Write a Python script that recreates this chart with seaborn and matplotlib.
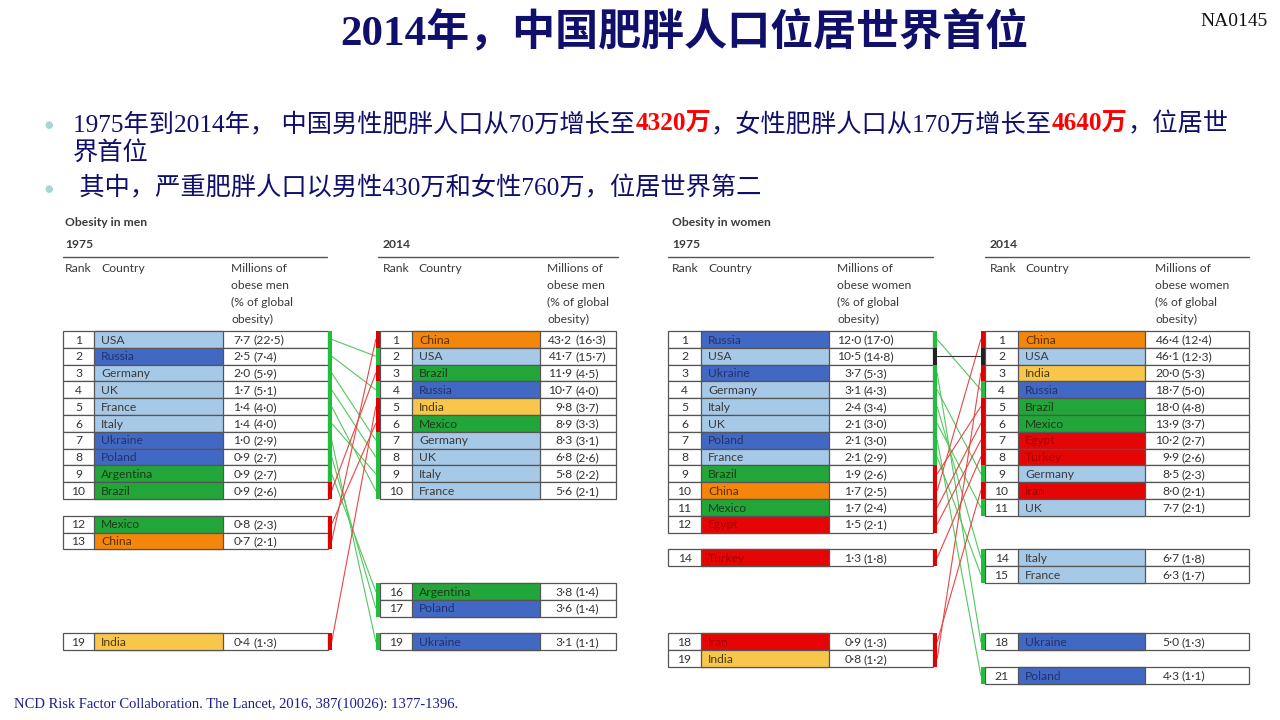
import matplotlib
matplotlib.use("Agg")
import matplotlib.pyplot as plt
import seaborn as sns
import pandas as pd
from matplotlib.patches import Rectangle

# ---------------- data ----------------
men_1975_countries = ["USA", "Russia", "Germany", "UK", "France", "Italy", "Ukraine",
                      "Poland", "Argentina", "Brazil", "Mexico", "China", "India"]
men_1975_ranks = [1, 2, 3, 4, 5, 6, 7, 8, 9, 10, 12, 13, 19]
men_1975_millions = [7.7, 2.5, 2.0, 1.7, 1.4, 1.4, 1.0, 0.9, 0.9, 0.9, 0.8, 0.7, 0.4]
men_1975_share = [22.5, 7.4, 5.9, 5.1, 4.0, 4.0, 2.9, 2.7, 2.7, 2.6, 2.3, 2.1, 1.3]

men_2014_countries = ["China", "USA", "Brazil", "Russia", "India", "Mexico", "Germany",
                      "UK", "Italy", "France", "Argentina", "Poland", "Ukraine"]
men_2014_ranks = [1, 2, 3, 4, 5, 6, 7, 8, 9, 10, 16, 17, 19]
men_2014_millions = [43.2, 41.7, 11.9, 10.7, 9.8, 8.9, 8.3, 6.8, 5.8, 5.6, 3.8, 3.6, 3.1]
men_2014_share = [16.3, 15.7, 4.5, 4.0, 3.7, 3.3, 3.1, 2.6, 2.2, 2.1, 1.4, 1.4, 1.1]

women_1975_countries = ["Russia", "USA", "Ukraine", "Germany", "Italy", "UK", "Poland",
                        "France", "Brazil", "China", "Mexico", "Egypt", "Turkey", "Iran", "India"]
women_1975_ranks = [1, 2, 3, 4, 5, 6, 7, 8, 9, 10, 11, 12, 14, 18, 19]
women_1975_millions = [12.0, 10.5, 3.7, 3.1, 2.4, 2.1, 2.1, 2.1, 1.9, 1.7, 1.7, 1.5, 1.3, 0.9, 0.8]
women_1975_share = [17.0, 14.8, 5.3, 4.3, 3.4, 3.0, 3.0, 2.9, 2.6, 2.5, 2.4, 2.1, 1.8, 1.3, 1.2]

women_2014_countries = ["China", "USA", "India", "Russia", "Brazil", "Mexico", "Egypt",
                        "Turkey", "Germany", "Iran", "UK", "Italy", "France", "Ukraine", "Poland"]
women_2014_ranks = [1, 2, 3, 4, 5, 6, 7, 8, 9, 10, 11, 14, 15, 18, 21]
women_2014_millions = [46.4, 46.1, 20.0, 18.7, 18.0, 13.9, 10.2, 9.9, 8.5, 8.0, 7.7, 6.7, 6.3, 5.0, 4.3]
women_2014_share = [12.4, 12.3, 5.3, 5.0, 4.8, 3.7, 2.7, 2.6, 2.3, 2.1, 2.1, 1.8, 1.7, 1.3, 1.1]

country_region = {
    "USA": "west", "Germany": "west", "UK": "west", "France": "west", "Italy": "west",
    "Russia": "east", "Ukraine": "east", "Poland": "east",
    "Argentina": "latam", "Brazil": "latam", "Mexico": "latam",
    "China": "china", "India": "india",
    "Egypt": "mena", "Turkey": "mena", "Iran": "mena",
}

# ---------------- styles ----------------
region_fill = {"west": "#a7c9e8", "east": "#4168c2", "latam": "#22a63a",
               "china": "#f5860c", "india": "#f8c64b", "mena": "#e50505"}
region_text = {"west": "#3a3a3a", "east": "#22336e", "latam": "#1d3a1d",
               "china": "#5a3000", "india": "#4a3a10", "mena": "#a80000"}
move_colors = {"down": "#1fbf3c", "up": "#e00000", "same": "#222222"}
line_colors = {"down": "#52c75f", "up": "#e84545", "same": "#333333"}

sns.set_theme(style="white")
plt.rcParams["font.family"] = ["Lato", "DejaVu Sans"]

fig = plt.figure(figsize=(12.8, 7.2), dpi=100)
ax = fig.add_axes([0, 0, 1, 1])

NAVY = "#10106c"
CJK = ["Liberation Serif", "Noto Sans CJK SC", "DejaVu Sans"]

# ---------------- title and bullets ----------------
ax.text(684, 33, "2014年，中国肥胖人口位居世界首位", family=CJK, fontweight="bold",
        fontsize=31, color=NAVY, ha="center", va="center")
ax.text(1268, 22, "NA0145", family=["Liberation Serif"], fontsize=14,
        color="#111111", ha="right", va="center")

BULLET_FS = 18.2
for by in (125, 189):
    ax.text(49, by, "●", fontsize=7, color="#a9d5d6", ha="center", va="center",
            family=["DejaVu Sans"])

segments = [("1975年到2014年， 中国男性肥胖人口从70万增长至", False),
            ("4320万", True),
            ("，女性肥胖人口从170万增长至", False),
            ("4640万", True),
            ("，位居世", False)]
prev = None
for seg, hl in segments:
    kw = dict(family=CJK, fontsize=BULLET_FS,
              color="#ff0000" if hl else NAVY,
              fontweight="bold" if hl else "normal")
    if prev is None:
        prev = ax.text(73, 124, seg, ha="left", va="center", **kw)
    else:
        prev = ax.annotate(seg, xy=(1, 0), xycoords=prev, ha="left", va="bottom", **kw)
ax.text(73, 153, "界首位", family=CJK, fontsize=BULLET_FS, color=NAVY, ha="left", va="center")
ax.text(73, 188, " 其中，严重肥胖人口以男性430万和女性760万，位居世界第二", family=CJK,
        fontsize=BULLET_FS, color=NAVY, ha="left", va="center")

ax.text(14, 704, "NCD Risk Factor Collaboration. The Lancet, 2016, 387(10026): 1377-1396.",
        family=["Liberation Serif"], fontsize=10.5, color="#1c1c8c", ha="left", va="center")

# ---------------- tables ----------------
TOP = 331.0
RH = 16.8
FS = 8.7
GRID = "#555555"


def fmt(v):
    return f"{v:.1f}".replace(".", "·")


def moves(c75, r75, c14, r14):
    a = dict(zip(c75, r75))
    b = dict(zip(c14, r14))
    out = {}
    for c in a:
        out[c] = "down" if b[c] > a[c] else ("up" if b[c] < a[c] else "same")
    return out


layout = {
    "men1975": dict(cols=(63, 94, 223, 327.5), paren=253, stripe="right",
                    slots=[r - 1 for r in men_1975_ranks]),
    "men2014": dict(cols=(380, 412, 540, 616), paren=575, stripe="left",
                    slots=[r - 1 for r in men_2014_ranks]),
    "women1975": dict(cols=(668, 701, 829, 933), paren=864, stripe="right",
                      slots=[0, 1, 2, 3, 4, 5, 6, 7, 8, 9, 10, 11, 13, 18, 19]),
    "women2014": dict(cols=(985, 1018, 1145, 1249), paren=1182, stripe="left",
                      slots=[0, 1, 2, 3, 4, 5, 6, 7, 8, 9, 10, 13, 14, 18, 20]),
}
SW = 4.2


def draw_table(key, countries, ranks, millions, share, mv):
    L = layout[key]
    x0, x1, x2, x3 = L["cols"]
    centers = {}
    for c, r, m, s, slot in zip(countries, ranks, millions, share, L["slots"]):
        top = TOP + slot * RH
        reg = country_region[c]
        ax.add_patch(Rectangle((x0, top), x3 - x0, RH, facecolor="white",
                               edgecolor=GRID, lw=0.9, zorder=2))
        ax.add_patch(Rectangle((x1, top), x2 - x1, RH, facecolor=region_fill[reg],
                               edgecolor=GRID, lw=0.9, zorder=3))
        yc = top + RH / 2
        centers[c] = yc
        ax.text((x0 + x1) / 2, yc + 0.7, str(r), fontsize=FS, color="#333333",
                ha="center", va="center", zorder=5)
        ax.text(x1 + 7, yc + 0.7, c, fontsize=FS, color=region_text[reg],
                ha="left", va="center", zorder=5)
        ax.text(L["paren"] - 2.5, yc + 0.7, fmt(m), fontsize=FS, color="#333333",
                ha="right", va="center", zorder=5)
        ax.text(L["paren"], yc + 0.7, f"({fmt(s)})", fontsize=FS, color="#333333",
                ha="left", va="center", zorder=5)
        sx = x3 if L["stripe"] == "right" else x0 - SW
        ax.add_patch(Rectangle((sx, top), SW, RH, facecolor=move_colors[mv[c]],
                               edgecolor="none", zorder=4))
    return centers


def header(x_rank, x_country, x_mill, line_x0, line_x1, year, title, sex):
    hc = "#3a3a3a"
    if title:
        ax.text(x_rank, 223, title, fontsize=FS, fontweight="bold", color=hc,
                ha="left", va="center")
    ax.text(x_rank, 245, year, fontsize=FS, fontweight="bold", color=hc,
            ha="left", va="center")
    ax.plot([line_x0, line_x1], [256.5, 256.5], color=GRID, lw=1.0)
    ax.text(x_rank, 269, "Rank", fontsize=FS, color=hc, ha="left", va="center")
    ax.text(x_country, 269, "Country", fontsize=FS, color=hc, ha="left", va="center")
    for i, s in enumerate(["Millions of", f"obese {sex}", "(% of global", "obesity)"]):
        ax.text(x_mill, 269 + i * 16.9, s, fontsize=FS, color=hc, ha="left", va="center")


header(65, 101, 231, 63, 327, "1975", "Obesity in men", "men")
header(383, 418, 547, 378, 618, "2014", None, "men")
header(672, 708, 837, 668, 933, "1975", "Obesity in women", "women")
header(990, 1025, 1155, 985, 1249, "2014", None, "women")

mv_men = moves(men_1975_countries, men_1975_ranks, men_2014_countries, men_2014_ranks)
mv_women = moves(women_1975_countries, women_1975_ranks, women_2014_countries, women_2014_ranks)

c_m75 = draw_table("men1975", men_1975_countries, men_1975_ranks, men_1975_millions,
                   men_1975_share, mv_men)
c_m14 = draw_table("men2014", men_2014_countries, men_2014_ranks, men_2014_millions,
                   men_2014_share, mv_men)
c_w75 = draw_table("women1975", women_1975_countries, women_1975_ranks, women_1975_millions,
                   women_1975_share, mv_women)
c_w14 = draw_table("women2014", women_2014_countries, women_2014_ranks, women_2014_millions,
                   women_2014_share, mv_women)

# ---------------- connectors ----------------
rows = []
for tag, a, b, mv, k75, k14 in [("m", c_m75, c_m14, mv_men, "men1975", "men2014"),
                                 ("w", c_w75, c_w14, mv_women, "women1975", "women2014")]:
    xa = layout[k75]["cols"][3] + SW
    xb = layout[k14]["cols"][0] - SW
    for c in a:
        rows.append(dict(uid=f"{tag}-{c}", x=xa, y=a[c], move=mv[c]))
        rows.append(dict(uid=f"{tag}-{c}", x=xb, y=b[c], move=mv[c]))
conn = pd.DataFrame(rows)
sns.lineplot(data=conn, x="x", y="y", units="uid", estimator=None, hue="move",
             palette=line_colors, legend=False, lw=0.8, sort=False, ax=ax, zorder=1)

ax.set_xlim(0, 1280)
ax.set_ylim(720, 0)
ax.axis("off")
fig.savefig("out.png", dpi=100, facecolor="white")
